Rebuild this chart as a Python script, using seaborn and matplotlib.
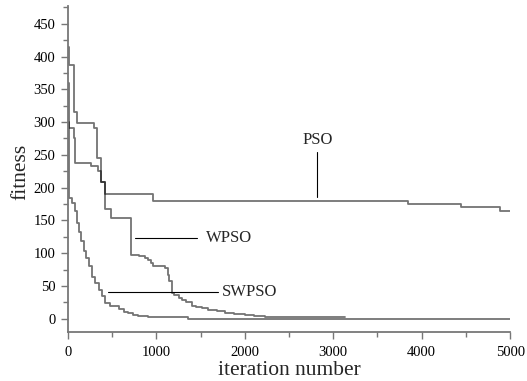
import pandas as pd
import seaborn as sns
import matplotlib.pyplot as plt
from matplotlib.ticker import MultipleLocator

# step curves: iteration where a new best value starts, and that value
pso_iter = [0, 15, 64, 102, 290, 328, 377, 415, 962, 3843, 4442, 4887, 5000]
pso_fit = [415, 387, 316, 299, 291, 245, 209, 190, 180, 175, 170, 165, 165]

wpso_iter = [0, 8, 64, 83, 264, 340, 377, 415, 490, 713, 800, 871, 905, 940,
             962, 1030, 1097, 1128, 1145, 1173, 1200, 1250, 1286, 1340, 1400,
             1450, 1520, 1584, 1680, 1776, 1880, 2000, 2100, 2230, 3130]
wpso_fit = [360, 291, 276, 238, 233, 226, 209, 168, 154, 97, 96, 93, 89, 85,
            81, 80, 77, 66, 57, 40, 36, 32, 29, 25, 20,
            18, 16, 14, 12, 9, 7, 6, 4, 2, 2]

swpso_iter = [0, 8, 15, 45, 76, 102, 121, 150, 177, 204, 234, 271, 309, 347,
              385, 415, 478, 573, 630, 683, 740, 796, 909, 1360, 5000]
swpso_fit = [300, 202, 184, 177, 164, 146, 133, 118, 103, 93, 80, 64, 54, 44,
             34, 24, 19, 15, 11, 8, 6, 4, 2, 0, 0]

frames = []
for name, xs, ys in [("PSO", pso_iter, pso_fit),
                     ("WPSO", wpso_iter, wpso_fit),
                     ("SWPSO", swpso_iter, swpso_fit)]:
    frames.append(pd.DataFrame({"iteration": xs, "fitness": ys, "algorithm": name}))
df = pd.concat(frames, ignore_index=True)

sns.set_theme(style="ticks")
plt.rcParams["font.family"] = ["Liberation Serif", "DejaVu Serif"]

fig = plt.figure(figsize=(5.27, 3.81), dpi=100)
ax = fig.add_axes([0.129, 0.129, 0.839, 0.855])

sns.lineplot(
    data=df,
    x="iteration",
    y="fitness",
    hue="algorithm",
    palette={"PSO": "black", "WPSO": "black", "SWPSO": "black"},
    estimator=None,
    sort=False,
    drawstyle="steps-post",
    legend=False,
    linewidth=1.3,
    alpha=0.55,
    ax=ax,
)

# labels with leader lines
ax.plot([2817, 2817], [186, 255], color="black", lw=0.8)
ax.text(2828, 273, "PSO", ha="center", va="center", fontsize=12)
ax.plot([758, 1459], [123.5, 123.5], color="black", lw=0.8)
ax.text(1561, 123.5, "WPSO", ha="left", va="center", fontsize=12)
ax.plot([452, 1697], [41, 41], color="black", lw=0.8)
ax.text(1742, 41, "SWPSO", ha="left", va="center", fontsize=12)

ax.set_xlim(0, 5000)
ax.set_ylim(-20, 477)
ax.xaxis.set_major_locator(MultipleLocator(1000))
ax.xaxis.set_minor_locator(MultipleLocator(500))
ax.yaxis.set_major_locator(MultipleLocator(50))
ax.yaxis.set_minor_locator(MultipleLocator(25))

ax.spines[["right", "top"]].set_visible(False)
for side in ["left", "bottom"]:
    ax.spines[side].set_color("#777777")
    ax.spines[side].set_linewidth(1.3)
ax.tick_params(which="major", direction="out", length=5, width=1, color="#777777",
               labelsize=10.5, pad=4, labelcolor="black")
ax.tick_params(axis="x", which="major", pad=5)
ax.tick_params(which="minor", direction="out", length=3.5, width=1, color="#777777")

ax.set_xlabel("iteration number", fontsize=15.5)
ax.set_ylabel("fitness", fontsize=15.5)
ax.xaxis.set_label_coords(0.5, -0.088)
ax.yaxis.set_label_coords(-0.086, 0.49)

fig.savefig("out.png", dpi=100)
